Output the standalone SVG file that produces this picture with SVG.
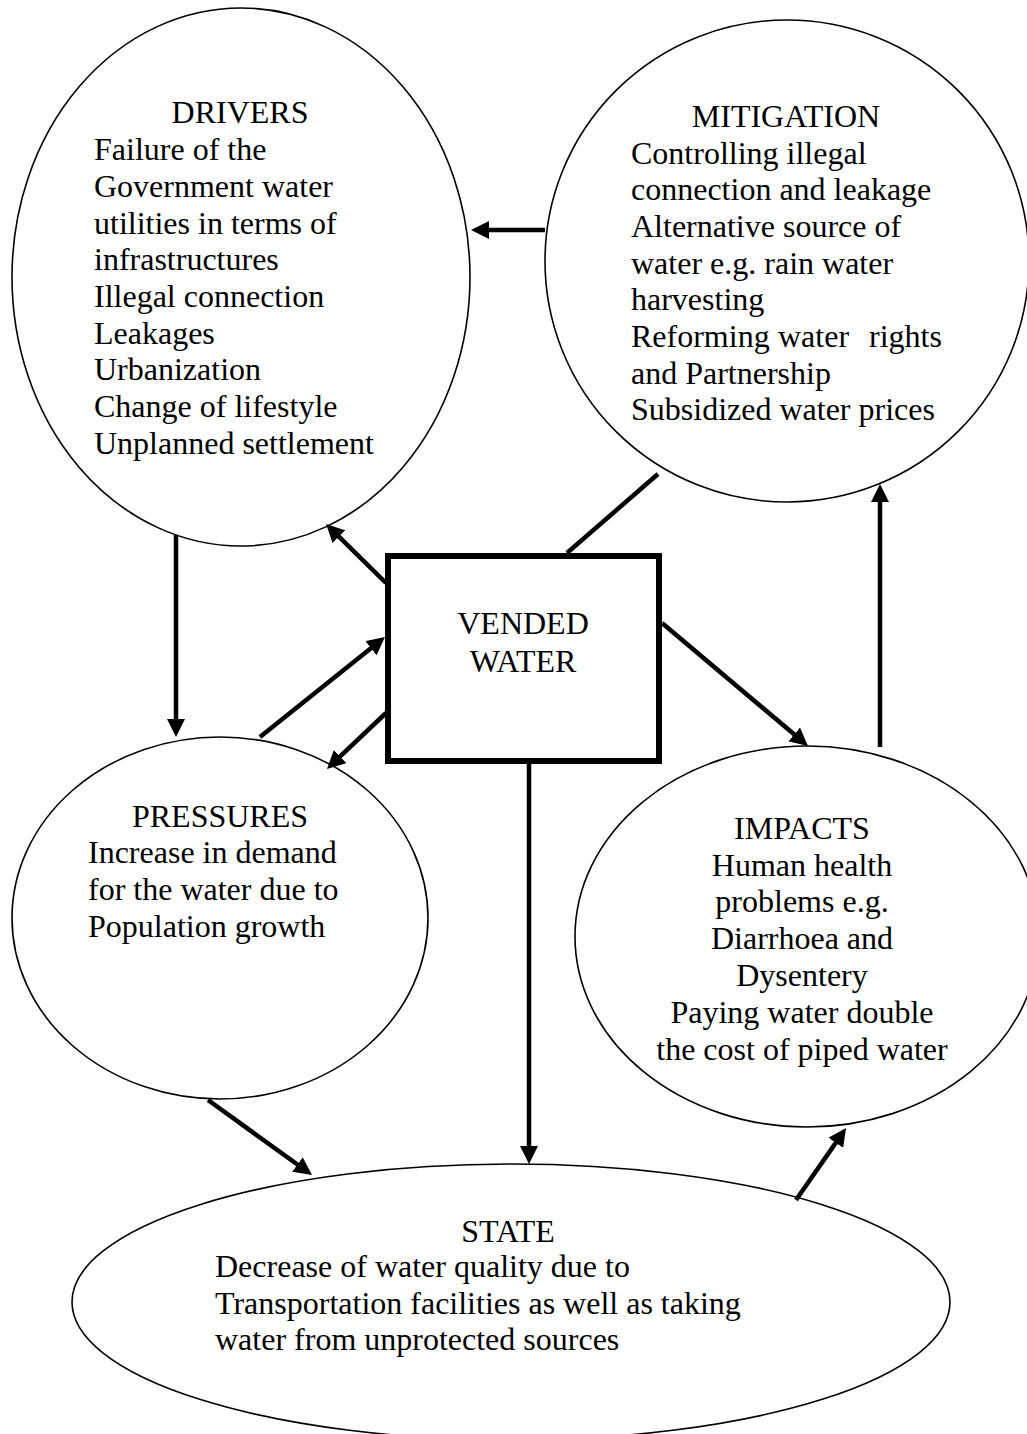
<svg xmlns="http://www.w3.org/2000/svg" width="1027" height="1434" viewBox="0 0 1027 1434">
<style>
  .node { fill: #ffffff; stroke: #000000; stroke-width: 1.6; }
  .box { fill: #ffffff; stroke: #000000; stroke-width: 6; }
  text { font-family: "Liberation Serif", "Times New Roman", serif; font-size: 32px; fill: #000000; }
  .c { text-anchor: middle; }
  .edge { stroke: #000000; stroke-width: 4.5; fill: none; }
  .arrow { marker-end: url(#ah); }
</style>
<defs>
  <marker id="ah" markerUnits="userSpaceOnUse" viewBox="0 0 18 18" markerWidth="18" markerHeight="18" refX="6" refY="9" orient="auto">
    <path d="M0,0 L18,9 L0,18 z" fill="#000000"/>
  </marker>
</defs>
<rect x="0" y="0" width="1027" height="1434" fill="#ffffff"/>

<g id="drivers">
  <ellipse class="node" cx="241" cy="277" rx="229" ry="269"/>
  <text class="c" x="240" y="123">DRIVERS</text>
  <text x="94" y="160">Failure of the</text>
  <text x="94" y="197">Government water</text>
  <text x="94" y="234">utilities in terms of</text>
  <text x="94" y="270">infrastructures</text>
  <text x="94" y="307">Illegal connection</text>
  <text x="94" y="344">Leakages</text>
  <text x="94" y="380">Urbanization</text>
  <text x="94" y="417">Change of lifestyle</text>
  <text x="94" y="454">Unplanned settlement</text>
</g>

<g id="mitigation">
  <ellipse class="node" cx="787" cy="261" rx="242" ry="241"/>
  <text class="c" x="786" y="127">MITIGATION</text>
  <text x="631" y="164">Controlling illegal</text>
  <text x="631" y="200">connection and leakage</text>
  <text x="631" y="237">Alternative source of</text>
  <text x="631" y="274">water e.g. rain water</text>
  <text x="631" y="310">harvesting</text>
  <text y="347"><tspan x="631">Reforming</tspan><tspan x="778">water</tspan><tspan x="869">rights</tspan></text>
  <text x="631" y="384">and Partnership</text>
  <text x="631" y="420">Subsidized water prices</text>
</g>

<g id="vended-water">
  <rect class="box" x="388" y="556" width="271" height="205"/>
  <text class="c" x="523" y="634">VENDED</text>
  <text class="c" x="523" y="672">WATER</text>
</g>

<g id="pressures">
  <ellipse class="node" cx="220" cy="918" rx="208" ry="181"/>
  <text class="c" x="220" y="827">PRESSURES</text>
  <text x="88" y="863">Increase in demand</text>
  <text x="88" y="900">for the water due to</text>
  <text x="88" y="937">Population growth</text>
</g>

<g id="impacts">
  <ellipse class="node" cx="807" cy="936.5" rx="232" ry="190.5"/>
  <text class="c" x="802" y="839">IMPACTS</text>
  <text class="c" x="802" y="876">Human health</text>
  <text class="c" x="802" y="912">problems e.g.</text>
  <text class="c" x="802" y="949">Diarrhoea and</text>
  <text class="c" x="802" y="986">Dysentery</text>
  <text class="c" x="802" y="1023">Paying water double</text>
  <text class="c" x="802" y="1060">the cost of piped water</text>
</g>

<g id="state">
  <ellipse class="node" cx="511" cy="1302" rx="439" ry="138"/>
  <text class="c" x="508" y="1242">STATE</text>
  <text x="215" y="1277">Decrease of water quality due to</text>
  <text x="215" y="1314">Transportation facilities as well as taking</text>
  <text x="215" y="1350">water from unprotected sources</text>
</g>

<g id="connectors">
  <line class="edge arrow" x1="545" y1="230" x2="483" y2="230"/>
  <line class="edge arrow" x1="386" y1="583" x2="334.6" y2="532.4"/>
  <line class="edge arrow" x1="176" y1="535" x2="176" y2="725"/>
  <line class="edge arrow" x1="260" y1="737" x2="375.6" y2="644.5"/>
  <line class="edge arrow" x1="386" y1="713" x2="335.7" y2="760.7"/>
  <line class="edge arrow" x1="662" y1="623" x2="798.8" y2="738.3"/>
  <line class="edge arrow" x1="880" y1="747" x2="880" y2="496"/>
  <line class="edge arrow" x1="529" y1="764" x2="529" y2="1152"/>
  <line class="edge arrow" x1="208" y1="1100" x2="302.3" y2="1168"/>
  <line class="edge arrow" x1="796" y1="1200" x2="839.2" y2="1137.9"/>
  <line class="edge" x1="658" y1="474" x2="567" y2="553"/>
</g>
</svg>
